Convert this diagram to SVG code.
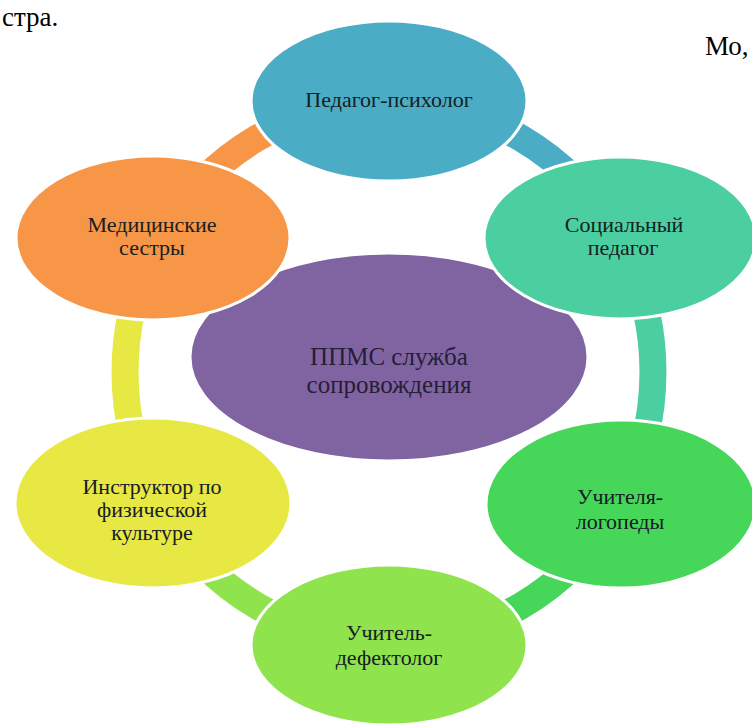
<svg xmlns="http://www.w3.org/2000/svg" width="752" height="727" viewBox="0 0 752 727">
<style>
.seg{fill:none;stroke-width:27}
.node{stroke:#ffffff;stroke-width:3}
.t{font-size:22px;fill:#162024;text-anchor:middle}
.c{font-size:25px;fill:#261d36;text-anchor:middle}
.page{font-size:27px;fill:#000}
</style>
<rect width="752" height="727" fill="#ffffff"/>
<g font-family="'Liberation Serif', 'Times New Roman', serif">
<text class="page" x="2" y="26">стра.</text>
<text class="page" x="705" y="55">Мо,</text>
<g id="connectors">
<path class="seg" stroke="#4bacc6" d="M389 102 A264 270 0 0 1 617.6 237"/>
<path class="seg" stroke="#4ccfa0" d="M617.6 237 A264 270 0 0 1 617.6 507"/>
<path class="seg" stroke="#46d65a" d="M617.6 507 A264 270 0 0 1 389 642"/>
<path class="seg" stroke="#8fe34d" d="M389 642 A264 270 0 0 1 160.4 507"/>
<path class="seg" stroke="#e8e845" d="M160.4 507 A264 270 0 0 1 160.4 237"/>
<path class="seg" stroke="#f79646" d="M160.4 237 A264 270 0 0 1 389 102"/>
</g>
<g id="center">
<ellipse class="node" cx="389" cy="357" rx="199" ry="104" fill="#8064a2"/>
<text class="c" x="389" y="365">ППМС служба</text>
<text class="c" x="389" y="393">сопровождения</text>
</g>
<g id="n-psych">
<ellipse class="node" cx="389" cy="101" rx="138" ry="80" fill="#4bacc6"/>
<text class="t" x="389" y="107">Педагог-психолог</text>
</g>
<g id="n-social">
<ellipse class="node" cx="620" cy="238" rx="136" ry="81" fill="#4ccfa0"/>
<text class="t" x="624" y="232">Социальный</text>
<text class="t" x="623" y="255">педагог</text>
</g>
<g id="n-logo">
<ellipse class="node" cx="621" cy="504" rx="135" ry="84" fill="#46d65a"/>
<text class="t" x="620" y="504">Учителя-</text>
<text class="t" x="620" y="529">логопеды</text>
</g>
<g id="n-defect">
<ellipse class="node" cx="389" cy="645" rx="138" ry="80" fill="#8fe34d"/>
<text class="t" x="389" y="640">Учитель-</text>
<text class="t" x="389" y="665">дефектолог</text>
</g>
<g id="n-phys">
<ellipse class="node" cx="153" cy="503" rx="138" ry="85" fill="#e8e845"/>
<text class="t" x="152" y="494">Инструктор по</text>
<text class="t" x="152" y="517">физической</text>
<text class="t" x="152" y="540">культуре</text>
</g>
<g id="n-med">
<ellipse class="node" cx="153" cy="238" rx="137" ry="82" fill="#f79646"/>
<text class="t" x="152" y="232">Медицинские</text>
<text class="t" x="152" y="255">сестры</text>
</g>
</g>
</svg>
